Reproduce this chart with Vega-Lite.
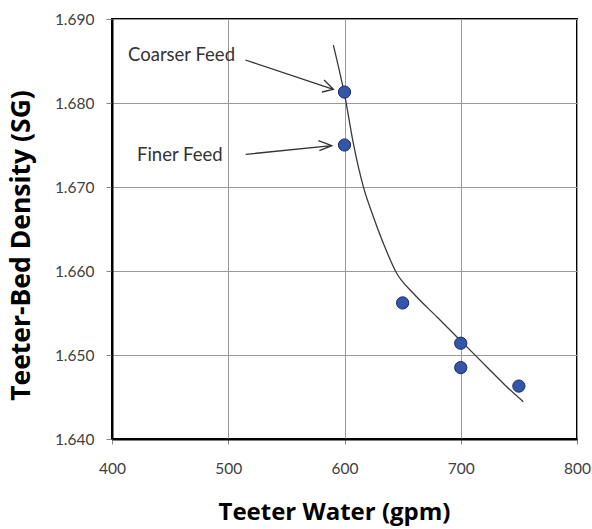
{
  "$schema": "https://vega.github.io/schema/vega-lite/v6.json",
  "width": 465,
  "height": 420,
  "autosize": "none",
  "padding": {"left": 112, "top": 19, "right": 15, "bottom": 90},
  "background": "white",
  "config": {
    "view": {"stroke": "#000000", "strokeWidth": 2},
    "font": "Lato"
  },
  "datasets": {
    "points": [
      {"water": 600, "density": 1.6813},
      {"water": 600, "density": 1.6750},
      {"water": 650, "density": 1.6562},
      {"water": 700, "density": 1.6514},
      {"water": 700, "density": 1.6485},
      {"water": 750, "density": 1.6463}
    ],
    "fit": [
      {"water": 590.4, "density": 1.6869},
      {"water": 600.4, "density": 1.68075},
      {"water": 607.6, "density": 1.6752},
      {"water": 616.2, "density": 1.67004},
      {"water": 624.8, "density": 1.66646},
      {"water": 633.4, "density": 1.6633},
      {"water": 644.9, "density": 1.65973},
      {"water": 659.2, "density": 1.65735},
      {"water": 679.3, "density": 1.65456},
      {"water": 700.8, "density": 1.65158},
      {"water": 722.3, "density": 1.64861},
      {"water": 739.5, "density": 1.64623},
      {"water": 753.8, "density": 1.64444}
    ],
    "arrows": [
      {"arrow": "coarser", "step": 1, "water": 514.7, "density": 1.68512},
      {"arrow": "coarser", "step": 2, "water": 590.4, "density": 1.68163},
      {"arrow": "coarser", "step": 3, "water": 582.4, "density": 1.68274},
      {"arrow": "coarser", "step": 4, "water": 590.4, "density": 1.68163},
      {"arrow": "coarser", "step": 5, "water": 580.6, "density": 1.68131},
      {"arrow": "finer", "step": 1, "water": 515.0, "density": 1.67389},
      {"arrow": "finer", "step": 2, "water": 589.0, "density": 1.67492},
      {"arrow": "finer", "step": 3, "water": 577.5, "density": 1.67551},
      {"arrow": "finer", "step": 4, "water": 589.0, "density": 1.67492},
      {"arrow": "finer", "step": 5, "water": 578.4, "density": 1.67432}
    ],
    "labels": [
      {"label": "Coarser Feed", "water": 413.8, "density": 1.68571},
      {"label": "Finer Feed", "water": 421.5, "density": 1.67381}
    ]
  },
  "layer": [
    {
      "data": {"name": "fit"},
      "mark": {"type": "line", "color": "#3a3a3a", "strokeWidth": 1.3, "interpolate": "monotone"},
      "encoding": {
        "x": {
          "field": "water", "type": "quantitative",
          "scale": {"domain": [400, 800], "nice": false, "zero": false},
          "axis": {
            "values": [400, 500, 600, 700, 800],
            "title": "Teeter Water (gpm)",
            "titleFont": "Open Sans", "titleFontSize": 24, "titleFontWeight": "bold", "titleColor": "#000000",
            "titlePadding": 24, "titleX": 222,
            "labelFont": "Lato", "labelFontSize": 15.5, "labelColor": "#404040", "labelPadding": 17,
            "labelFlush": false,
            "tickSize": 5, "tickColor": "#888888",
            "domainColor": "#000000", "domainWidth": 2,
            "gridColor": "#999999", "gridWidth": 1, "gridOpacity": 1
          }
        },
        "y": {
          "field": "density", "type": "quantitative",
          "scale": {"domain": [1.64, 1.69], "nice": false, "zero": false},
          "axis": {
            "values": [1.64, 1.65, 1.66, 1.67, 1.68, 1.69],
            "format": ".3f",
            "title": "Teeter-Bed Density (SG)",
            "titleFont": "Open Sans", "titleFontSize": 26.5, "titleFontWeight": "bold", "titleColor": "#000000",
            "titlePadding": 19, "titleY": 226,
            "labelFont": "Lato", "labelFontSize": 15.5, "labelColor": "#404040", "labelPadding": 12,
            "labelFlush": false,
            "tickSize": 6, "tickColor": "#888888",
            "domainColor": "#000000", "domainWidth": 2,
            "gridColor": "#999999", "gridWidth": 1, "gridOpacity": 1
          }
        }
      }
    },
    {
      "data": {"name": "arrows"},
      "mark": {"type": "line", "color": "#333333", "strokeWidth": 1.3},
      "encoding": {
        "x": {"field": "water", "type": "quantitative"},
        "y": {"field": "density", "type": "quantitative"},
        "detail": {"field": "arrow"},
        "order": {"field": "step"}
      }
    },
    {
      "data": {"name": "points"},
      "mark": {"type": "circle", "size": 150, "color": "#3355aa", "stroke": "#1a2a6a", "strokeWidth": 1, "opacity": 1},
      "encoding": {
        "x": {"field": "water", "type": "quantitative"},
        "y": {"field": "density", "type": "quantitative"}
      }
    },
    {
      "data": {"name": "labels"},
      "mark": {"type": "text", "align": "left", "baseline": "middle", "font": "Lato", "fontSize": 18.5, "color": "#333333"},
      "encoding": {
        "x": {"field": "water", "type": "quantitative"},
        "y": {"field": "density", "type": "quantitative"},
        "text": {"field": "label"}
      }
    }
  ]
}
